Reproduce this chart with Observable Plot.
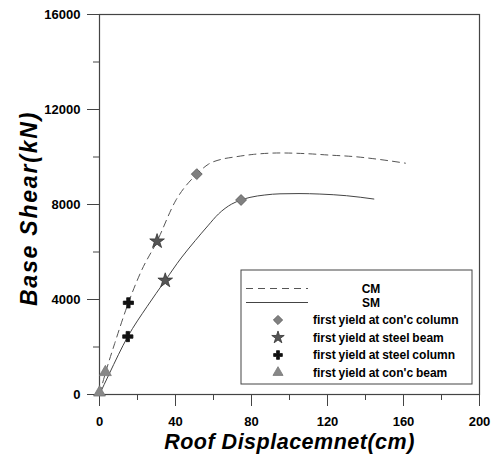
<!DOCTYPE html>
<html>
<head>
<meta charset="utf-8">
<script src="https://cdn.jsdelivr.net/npm/d3@7"></script>
<script src="https://cdn.jsdelivr.net/npm/@observablehq/plot@0.6"></script>
<style>
  html, body { margin: 0; padding: 0; background: #fff; }
  #chart { width: 497px; height: 455px; }
</style>
</head>
<body>
<div id="chart"></div>
<script>
// ---- data ----
const xTicks = [0, 40, 80, 120, 160, 200];
const xMinor = [20, 60, 100, 140, 180];
const yTicks = [0, 4000, 8000, 12000, 16000];
const yMinor = [2000, 6000, 10000, 14000];

// CM curve (dashed)
const cmX = [0, 3.1, 8, 15.2, 22, 30.3, 40, 51.2, 57.4, 64, 71, 81, 95, 109, 121, 135, 147, 161];
const cmY = [0, 900, 2150, 3860, 5200, 6450, 8150, 9280, 9700, 9900, 10000, 10110, 10170, 10140, 10080, 10010, 9900, 9740];

// SM curve (solid)
const smX = [0, 5, 14.9, 25, 34.6, 43, 50.4, 57, 62.6, 69.6, 74.5, 79.2, 87, 95, 105, 116, 130, 144.4];
const smY = [0, 850, 2440, 3700, 4800, 5750, 6480, 7100, 7600, 8020, 8190, 8300, 8400, 8450, 8460, 8440, 8370, 8230];

// yield markers
const markerType = ["con'c column", "con'c column", "steel beam", "steel beam", "steel column", "steel column", "con'c beam", "con'c beam"];
const markerX = [51.2, 74.5, 30.3, 34.6, 15.2, 14.9, 3.1, 0];
const markerY = [9280, 8190, 6450, 4800, 3860, 2440, 940, 80];

const legendLabels = ["CM", "SM", "first yield at con'c column", "first yield at steel beam", "first yield at steel column", "first yield at con'c beam"];

// ---- build ----
const cm = cmX.map((x, i) => ({x, y: cmY[i]}));
const sm = smX.map((x, i) => ({x, y: smY[i]}));
const style = {
  "con'c column": {symbol: "diamond2", fill: "#808080", stroke: "#555", r: 4.9},
  "steel beam":   {symbol: "star", fill: "#555", stroke: "#333", r: 4.6},
  "steel column": {symbol: "cross", fill: "#111", stroke: "#111", r: 4.3},
  "con'c beam":   {symbol: "triangle", fill: "#888", stroke: "#777", r: 4.4}
};
const markers = markerX.map((x, i) => ({x, y: markerY[i], t: markerType[i], ...style[markerType[i]]}));

const font = "'Liberation Sans', Arial, sans-serif";
const axisColor = "#444";

const plot = Plot.plot({
  width: 497,
  height: 455,
  marginLeft: 99,
  marginRight: 18,
  marginTop: 14,
  marginBottom: 61,
  style: {fontFamily: font, background: "#fff", color: "#000"},
  x: {domain: [0, 200]},
  y: {domain: [0, 16000]},
  symbol: {type: "identity"},
  r: {type: "identity"},
  marks: [
    Plot.frame({stroke: axisColor, strokeWidth: 1.2}),
    Plot.axisX({ticks: xMinor, tickSize: 6, text: null, label: null, stroke: axisColor}),
    Plot.axisX({ticks: xTicks, tickSize: 12, tickPadding: 10, label: null, fontSize: 13, fontWeight: "bold", stroke: axisColor, tickFormat: d => String(d)}),
    Plot.axisY({ticks: yMinor, tickSize: 6, text: null, label: null, stroke: axisColor}),
    Plot.axisY({ticks: yTicks, tickSize: 12, tickPadding: 7, label: null, fontSize: 13, fontWeight: "bold", stroke: axisColor, tickFormat: d => String(d)}),
    Plot.text(["Roof Displacemnet(cm)"], {frameAnchor: "bottom", dy: 48, lineAnchor: "middle", textAnchor: "middle", fontSize: 21.5, fontWeight: "bold", fontStyle: "italic", fill: "#000"}),
    Plot.text(["Base Shear(kN)"], {frameAnchor: "left", dx: -70, dy: 4, rotate: -90, lineAnchor: "middle", textAnchor: "middle", fontSize: 23, fontWeight: "bold", fontStyle: "italic", fill: "#000"}),
    Plot.line(cm, {x: "x", y: "y", curve: "monotone-x", stroke: "#555", strokeWidth: 1, strokeDasharray: "7,5"}),
    Plot.line(sm, {x: "x", y: "y", curve: "monotone-x", stroke: "#444", strokeWidth: 1}),
    Plot.dot(markers, {x: "x", y: "y", symbol: "symbol", fill: "fill", stroke: "stroke", r: "r", strokeWidth: 0.8})
  ]
});
document.getElementById("chart").appendChild(plot);

// widen the x title slightly and the y title letter spacing to match reference
d3.select(plot).selectAll("text").filter(function() { return this.textContent === "Base Shear(kN)"; })
  .attr("letter-spacing", "1.8px");
d3.select(plot).selectAll("text").filter(function() { return this.textContent === "Roof Displacemnet(cm)"; })
  .attr("letter-spacing", "0.5px");

// ---- legend (layout only) ----
const svg = d3.select(plot);
const lg = svg.append("g").attr("font-family", font).attr("font-weight", "bold").attr("font-size", 12).attr("fill", "#000");
const box = {x: 241, y: 270, w: 231, h: 114};
lg.append("rect").attr("x", box.x).attr("y", box.y).attr("width", box.w).attr("height", box.h)
  .attr("fill", "#fff").attr("stroke", axisColor).attr("stroke-width", 1);
const rowsY = [288.5, 302.5, 320, 337.5, 355, 372.5];
const symX = 278;
const symMap = {diamond2: d3.symbolDiamond2, star: d3.symbolStar, cross: d3.symbolCross, triangle: d3.symbolTriangle};
legendLabels.forEach((lab, i) => {
  const y = rowsY[i];
  if (i < 2) {
    lg.append("line").attr("x1", 246).attr("x2", 308).attr("y1", y).attr("y2", y)
      .attr("stroke", i === 0 ? "#555" : "#444").attr("stroke-width", 1)
      .attr("stroke-dasharray", i === 0 ? "7,5" : null);
    lg.append("text").attr("x", 371).attr("y", y).attr("dy", "0.35em").attr("text-anchor", "middle").text(lab);
  } else {
    const t = ["con'c column", "steel beam", "steel column", "con'c beam"][i - 2];
    const s = style[t];
    const rr = s.r * 0.85;
    lg.append("path").attr("transform", `translate(${symX},${y})`)
      .attr("d", d3.symbol(symMap[s.symbol], rr * rr * Math.PI)())
      .attr("fill", s.fill).attr("stroke", s.stroke).attr("stroke-width", 0.8);
    lg.append("text").attr("x", 313).attr("y", y).attr("dy", "0.35em").attr("text-anchor", "start").attr("word-spacing", "-0.5px").text(lab);
  }
});
</script>
</body>
</html>
